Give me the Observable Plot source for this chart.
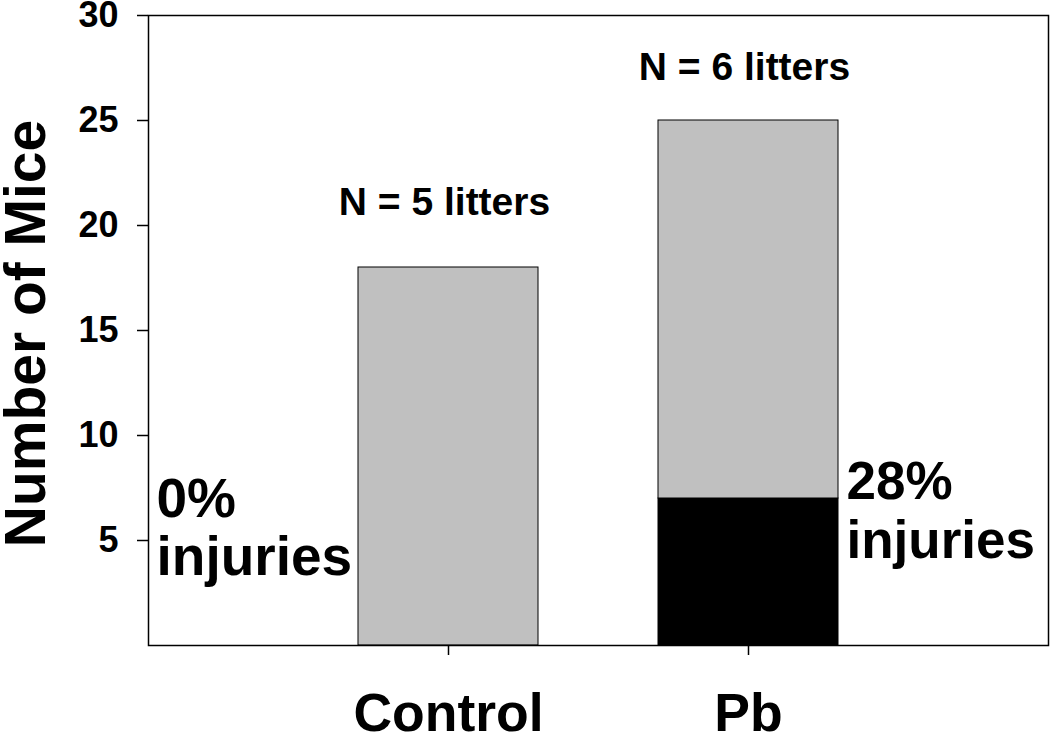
<!DOCTYPE html>
<html><head><meta charset="utf-8">
<script src="https://cdn.jsdelivr.net/npm/d3@7"></script>
<script src="https://cdn.jsdelivr.net/npm/@observablehq/plot@0.6"></script>
<style>body{margin:0;background:#fff}</style>
</head><body><div id="chart"></div>
<script>
const groups = ["Control", "Pb"];
const injuredCounts = [0, 7];
const uninjuredCounts = [18, 18];
const statusNames = ["injured", "uninjured"];
const statusColors = ["#000000", "#c0c0c0"];
const yTicks = [5, 10, 15, 20, 25, 30];
const yTitle = "Number of Mice";
const litterLabels = ["N = 5 litters", "N = 6 litters"];
const litterLabelY = [21.1, 27.5];
const pctLines = ["0%", "injuries", "28%", "injuries"];
const pctGroup = ["Control", "Control", "Pb", "Pb"];
const pctY = [6.1, 3.35, 7.0, 4.15];

const rows = [];
groups.forEach((g, i) => {
  rows.push({group: g, status: "injured", count: injuredCounts[i]});
  rows.push({group: g, status: "uninjured", count: uninjuredCounts[i]});
});
const litters = groups.map((g, i) => ({group: g, label: litterLabels[i], y: litterLabelY[i]}));
const pctAll = pctLines.map((t, i) => ({t, g: pctGroup[i], y: pctY[i]}));
const pctLeft = pctAll.filter(d => d.g === "Control");
const pctRight = pctAll.filter(d => d.g === "Pb");

const font = '"Liberation Sans", Arial, sans-serif';
const chart = Plot.plot({
  width: 1050,
  height: 735,
  marginLeft: 148,
  marginTop: 15,
  marginRight: 2,
  marginBottom: 90,
  style: {fontFamily: font, fontWeight: "bold", color: "#000", background: "#fff"},
  x: {type: "band", domain: groups, paddingInner: 0.4, paddingOuter: 0.7, label: null},
  y: {domain: [0, 30], label: null},
  color: {domain: statusNames, range: statusColors},
  marks: [
    Plot.barY(rows, {x: "group", y: "count", fill: "status", stroke: "#000", strokeWidth: 1, order: null}),
    Plot.frame({stroke: "#000", strokeWidth: 1.5}),
    Plot.axisY(yTicks, {tickSize: 11, tickPadding: 19, fontSize: 36, fontWeight: "bold", label: null, strokeWidth: 1.5}),
    Plot.axisX({tickSize: 10, tickPadding: 37, fontSize: 53.5, fontWeight: "bold", label: null, strokeWidth: 1.5}),
    Plot.text([yTitle], {frameAnchor: "left", textAnchor: "middle", dx: -122, dy: 3, rotate: -90, fontSize: 57, fontWeight: "bold", fill: "#000"}),
    Plot.text(litters, {x: "group", y: "y", text: "label", fontSize: 39, fontWeight: "bold", fill: "#000", dx: -4}),
    Plot.text(pctLeft, {frameAnchor: "left", y: "y", text: "t", textAnchor: "start", lineAnchor: "bottom", dx: 8, fontSize: 55, fontWeight: "bold", fill: "#000"}),
    Plot.text(pctRight, {x: "g", y: "y", text: "t", textAnchor: "start", lineAnchor: "bottom", dx: 98, fontSize: 53, fontWeight: "bold", fill: "#000"})
  ]
});
document.getElementById("chart").appendChild(chart);
</script>
</body></html>
